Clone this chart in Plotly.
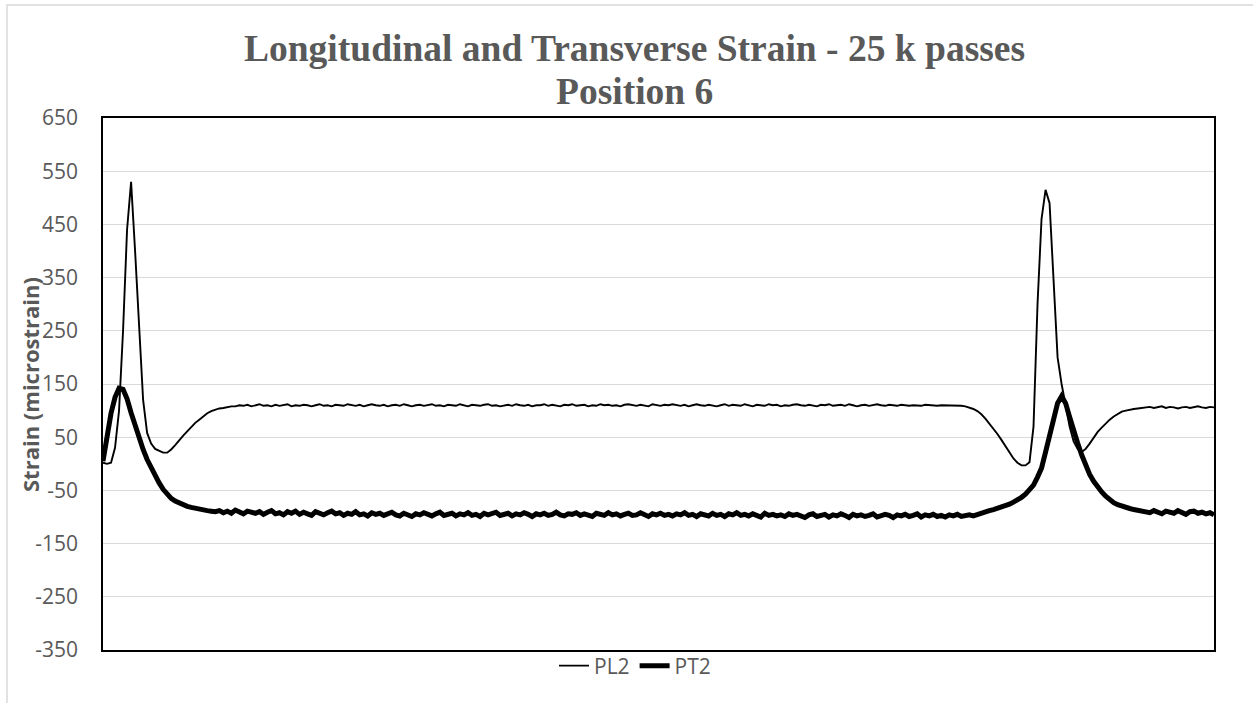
import plotly.graph_objects as go

# sample index (plot x positions, hidden axis)
sample = list(range(0, 1112, 4))

PL2 = [
    2, 0, 2, 30, 100, 250, 440, 530, 400, 250, 120, 58, 38, 28, 24, 21, 21, 27, 35, 45,
    53, 61, 70, 77, 83, 89, 95, 99, 102, 104, 105, 107, 108,
    108, 110, 109, 111, 108, 110, 112, 109, 110, 108,
    111, 109, 110, 112, 108, 110, 109, 111, 110, 108,
    110, 112, 109, 110, 108, 111, 110, 109, 112, 110,
    109, 111, 108, 110, 112, 110, 109, 111, 108, 110,
    111, 109, 112, 110, 108, 110, 111, 109, 110, 112,
    109, 110, 108, 111, 110, 109, 112, 110, 108, 111,
    110, 109, 111, 112, 109, 110, 108, 110, 111, 109,
    112, 110, 109, 111, 108, 110, 110, 112, 109, 111,
    110, 108, 111, 110, 112, 109, 110, 111, 108, 110,
    109, 112, 110, 111, 109, 110, 108, 111, 112, 110,
    109, 111, 110, 108, 112, 110, 109, 111, 110, 112,
    110, 109, 111, 108, 110, 112, 110, 109, 111, 110,
    108, 110, 112, 109, 111, 110, 109, 112, 110, 108,
    111, 110, 109, 112, 110, 111, 108, 110, 109, 111,
    112, 110, 109, 111, 110, 108, 111, 110, 112, 109,
    110, 111, 109, 112, 110, 108, 110, 111, 109, 110,
    112, 110, 109, 111, 110, 109, 111, 110, 109, 110,
    110, 109, 111, 110, 110, 109, 110, 110, 109, 110, 109,
    109, 108, 106, 103, 99, 93, 85, 76, 66, 56, 45, 33, 21, 10, 2, -3, -3, 3, 70, 300,
    460, 515, 490, 340, 200, 150, 110, 70, 42, 28, 22, 28, 38, 50, 60, 68, 76, 83, 89, 94,
    98, 100, 102, 103, 104, 105,
    106, 107, 105, 106, 108, 105, 107, 106, 104, 106, 107, 105, 106, 108, 106, 105, 107, 106,
]

PT2 = [
    5, 50, 95, 125, 142, 140, 122, 96, 72, 50, 27, 8, -8, -23, -36, -48, -58, -65, -70, -74,
    -77, -80, -82, -84, -86, -87, -88, -89, -90,
    -88, -92, -89, -93, -87, -91, -94, -89, -90, -93,
    -90, -95, -91, -88, -94, -92, -96, -90, -93, -89,
    -95, -91, -94, -97, -90, -93, -96, -92, -89, -94,
    -92, -97, -93, -95, -90, -96, -94, -98, -92, -95,
    -93, -97, -94, -91, -96, -98, -93, -95, -99, -94,
    -96, -92, -95, -98, -94, -91, -97, -95, -93, -98,
    -94, -96, -92, -97, -95, -99, -93, -96, -94, -91,
    -97, -95, -93, -98, -94, -96, -92, -95, -99, -94,
    -96, -93, -97, -95, -91, -96, -98, -94, -95, -92,
    -97, -94, -96, -99, -93, -95, -97, -92, -96, -94,
    -98, -95, -93, -97, -96, -92, -95, -99, -94, -96,
    -93, -97, -95, -98, -94, -96, -92, -97, -95, -99,
    -94, -96, -98, -93, -97, -95, -99, -94, -96, -92,
    -97, -95, -98, -94, -96, -100, -93, -97, -95, -98,
    -96, -99, -94, -97, -95, -98, -101, -96, -94, -99,
    -97, -95, -100, -96, -98, -94, -97, -101, -95, -98,
    -96, -99, -97, -94, -100, -98, -95, -97, -101, -96,
    -98, -95, -99, -97, -94, -100, -96, -98, -95, -99,
    -97, -100, -96, -98, -95, -99, -97, -96, -98, -95,
    -93, -90, -88, -86, -84, -82, -79, -76, -72, -68, -63, -57, -50, -40, -25, -8, 22, 55, 88, 114,
    127, 114, 88, 60, 39, 17, -2, -20, -33, -44, -53, -61, -68, -73, -77, -80, -82, -84, -86, -87,
    -88,
    -89, -92, -88, -91, -94, -89, -90, -93, -88, -91, -95, -90, -89, -93, -91, -94, -92, -96,
]

series_names = ["PL2", "PT2"]
y_ticks = [-350, -250, -150, -50, 50, 150, 250, 350, 450, 550, 650]
y_tick_labels = ["-350", "-250", "-150", "-50", "50", "150", "250", "350", "450", "550", "650"]
title_line1 = "Longitudinal and Transverse Strain - 25 k passes"
title_line2 = "Position 6"
y_title = "Strain (microstrain)"

n = min(len(sample), len(PL2), len(PT2))

fig = go.Figure()
fig.add_trace(go.Scatter(x=sample[:n], y=PL2[:n], mode="lines", name=series_names[0],
                         line=dict(color="black", width=1.9)))
fig.add_trace(go.Scatter(x=sample[:n], y=PT2[:n], mode="lines", name=series_names[1],
                         line=dict(color="black", width=5)))

L, R, T, B = 103, 39, 118, 53
W, H = 1253, 703
pw, ph = W - L - R, H - T - B

def px_x(px):
    return (px - L) / pw

def px_y(py):
    return (H - B - py) / ph

fig.update_layout(
    width=W, height=H,
    margin=dict(l=L, r=R, t=T, b=B),
    paper_bgcolor="white", plot_bgcolor="white",
    showlegend=True,
    legend=dict(orientation="h", x=px_x(635), xanchor="center", y=px_y(666), yanchor="middle",
                font=dict(family="Open Sans", size=21, color="#595959"),
                bgcolor="rgba(0,0,0,0)"),
    xaxis=dict(range=[sample[0], sample[n - 1]], showgrid=False, zeroline=False,
               showticklabels=False, ticks="", showline=True, mirror=True,
               linecolor="black", linewidth=1.5),
    yaxis=dict(range=[y_ticks[0], y_ticks[-1]], tickvals=y_ticks, ticktext=y_tick_labels,
               showgrid=True, gridcolor="#D9D9D9", gridwidth=1, zeroline=False,
               ticks="outside", ticklen=19, tickcolor="rgba(0,0,0,0)",
               tickfont=dict(family="Open Sans", size=21, color="#595959"),
               showline=True, mirror=True, linecolor="black", linewidth=1.5),
    annotations=[
        dict(text="<b>" + title_line1 + "</b>", xref="paper", yref="paper",
             x=px_x(634), y=px_y(48), xanchor="center", yanchor="middle", showarrow=False,
             font=dict(family="Liberation Serif", size=37.5, color="#595959")),
        dict(text="<b>" + title_line2 + "</b>", xref="paper", yref="paper",
             x=px_x(634), y=px_y(92), xanchor="center", yanchor="middle", showarrow=False,
             font=dict(family="Liberation Serif", size=37.5, color="#595959")),
        dict(text="<b>" + y_title + "</b>", xref="paper", yref="paper",
             x=px_x(30), y=0.5, xanchor="center", yanchor="middle", textangle=-90,
             showarrow=False,
             font=dict(family="Open Sans", size=22, color="#595959")),
    ],
    shapes=[
        dict(type="rect", xref="paper", yref="paper",
             x0=px_x(7), y0=px_y(720), x1=px_x(1270), y1=px_y(5),
             line=dict(color="#D9D9D9", width=1.5), fillcolor="rgba(0,0,0,0)", layer="below"),
    ],
)

fig.write_html("out.html", config={"displayModeBar": False},
               post_script="document.body.style.margin='0';")
